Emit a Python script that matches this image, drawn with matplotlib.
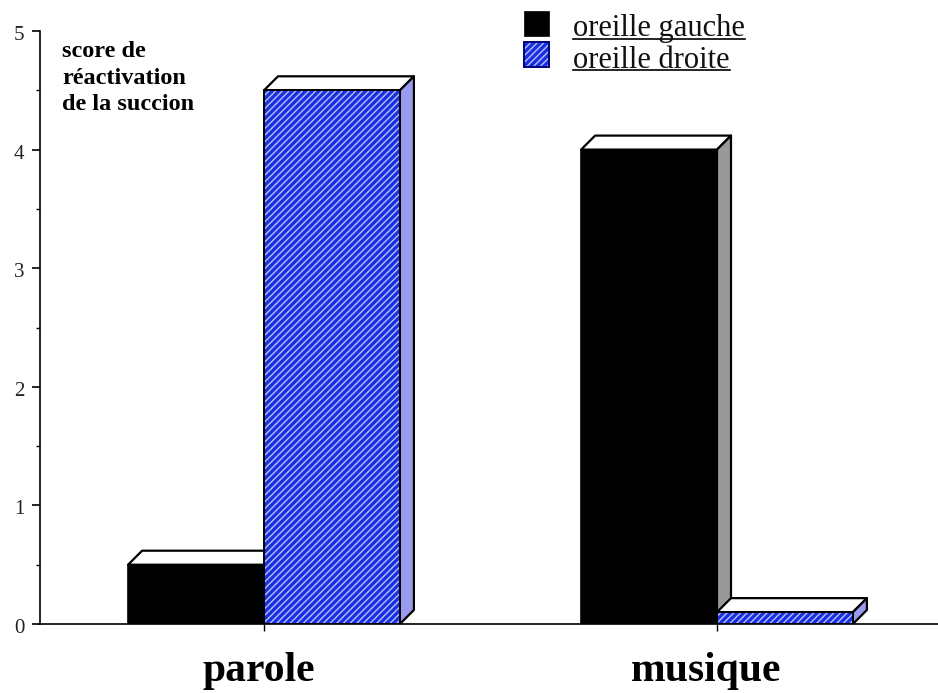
import matplotlib
matplotlib.use('Agg')
import matplotlib.pyplot as plt
from matplotlib.patches import Polygon, Rectangle
from matplotlib.transforms import ScaledTranslation

plt.rcParams['font.family'] = ['Liberation Serif', 'DejaVu Serif']
plt.rcParams['hatch.linewidth'] = 1.0

categories = ['parole', 'musique']
oreille_gauche = [0.5, 4.0]
oreille_droite = [4.5, 0.1]
legend_labels = ['oreille gauche', 'oreille droite']
y_ticks = [0, 1, 2, 3, 4, 5]
y_minor_ticks = [0.5, 1.5, 2.5, 3.5, 4.5]
annotation = ['score de', 'réactivation', 'de la succion']

W, H = 938, 693
BAR_W = 0.3
BLUE = '#1a2fe0'
STRIPE = '#b4c0ff'
BLUE_EDGE = '#00007a'


def draw_bar(ax, x, value, color, side_color, hatch=None):
    # depth of the fake 3d effect, 14 px both ways
    dx = 14 / 453
    dy = 14 / 593 * 5
    top = Polygon([(x, value), (x + dx, value + dy), (x + BAR_W + dx, value + dy), (x + BAR_W, value)],
                  closed=True, facecolor='white', edgecolor='black', linewidth=1.6, joinstyle='round')
    side = Polygon([(x + BAR_W, 0), (x + BAR_W + dx, dy), (x + BAR_W + dx, value + dy), (x + BAR_W, value)],
                   closed=True, facecolor=side_color, edgecolor='black', linewidth=1.6, joinstyle='round')
    ax.add_patch(top)
    ax.add_patch(side)
    if hatch:
        ax.add_patch(Rectangle((x, 0), BAR_W, value, facecolor=BLUE, edgecolor=STRIPE, hatch=hatch, linewidth=0))
        ax.add_patch(Rectangle((x, 0), BAR_W, value, fill=False, edgecolor='black', linewidth=1.4))
    else:
        ax.add_patch(Rectangle((x, 0), BAR_W, value, facecolor=color, edgecolor='black', linewidth=1.2))


fig = plt.figure(figsize=(W / 100, H / 100), dpi=100)
ax = fig.add_axes([39.5 / W, (H - 624) / H, (W - 39.5) / W, 593 / H])

for i in range(len(categories)):
    draw_bar(ax, i - BAR_W, oreille_gauche[i], 'black', '#999999')
    draw_bar(ax, i, oreille_droite[i], BLUE, '#9999ee', hatch='/////')

ax.set_xlim((39.5 - 264) / 453, (W - 264) / 453)
ax.set_ylim(0, 5)
ax.spines['top'].set_visible(False)
ax.spines['right'].set_visible(False)
ax.spines['left'].set_linewidth(1.2)
ax.spines['bottom'].set_linewidth(1.2)

ax.set_xticks(range(len(categories)))
ax.set_xticklabels([])
ax.tick_params(axis='x', length=5, width=1)
# the labels sit a bit left of their ticks in the original
label_shift = [-5, -10.5]
for i, cat in enumerate(categories):
    ax.annotate(cat, xy=(i, 0), xycoords=('data', 'axes fraction'), xytext=(label_shift[i] * 0.72, -57 * 0.72),
                textcoords='offset points', ha='center', va='baseline', fontsize=30, fontweight='bold')

ax.set_yticks(y_ticks)
ax.set_yticks(y_minor_ticks, minor=True)
ax.tick_params(axis='y', which='major', length=6, width=1.2, labelsize=15, pad=5, labelcolor='#222222')
ax.tick_params(axis='y', which='minor', length=3, width=1)
for lab in ax.get_yticklabels():
    lab.set_transform(lab.get_transform() + ScaledTranslation(0, -2 / 100, fig.dpi_scale_trans))

for line, base in zip(annotation, [57, 84, 110]):
    fig.text(62 / W, 1 - base / H, line, fontsize=17.5, fontweight='bold', va='baseline', ha='left')

# legend by hand, the labels are underlined
swatch_y = [11, 42]
baseline_y = [36, 68]
for j, label in enumerate(legend_labels):
    y = swatch_y[j]
    if j == 0:
        fig.add_artist(Rectangle((524 / W, 1 - (y + 25) / H), 25 / W, 25 / H, facecolor='black',
                                 edgecolor='black', linewidth=0.5, transform=fig.transFigure))
    else:
        fig.add_artist(Rectangle((524 / W, 1 - (y + 25) / H), 25 / W, 25 / H, facecolor=BLUE,
                                 edgecolor=STRIPE, hatch='/////', linewidth=0, transform=fig.transFigure))
        fig.add_artist(Rectangle((524 / W, 1 - (y + 25) / H), 25 / W, 25 / H, fill=False,
                                 edgecolor=BLUE_EDGE, linewidth=1.4, transform=fig.transFigure))
    t = fig.text(573 / W, 1 - baseline_y[j] / H, label, fontsize=22, va='baseline', ha='left', color='#111111')
    bb = t.get_window_extent(fig.canvas.get_renderer())
    fig.add_artist(plt.Line2D([bb.x0 / W, bb.x1 / W], [1 - (y + 28) / H] * 2, color='black', linewidth=1.2,
                              transform=fig.transFigure))

fig.savefig('out.png', dpi=100)
